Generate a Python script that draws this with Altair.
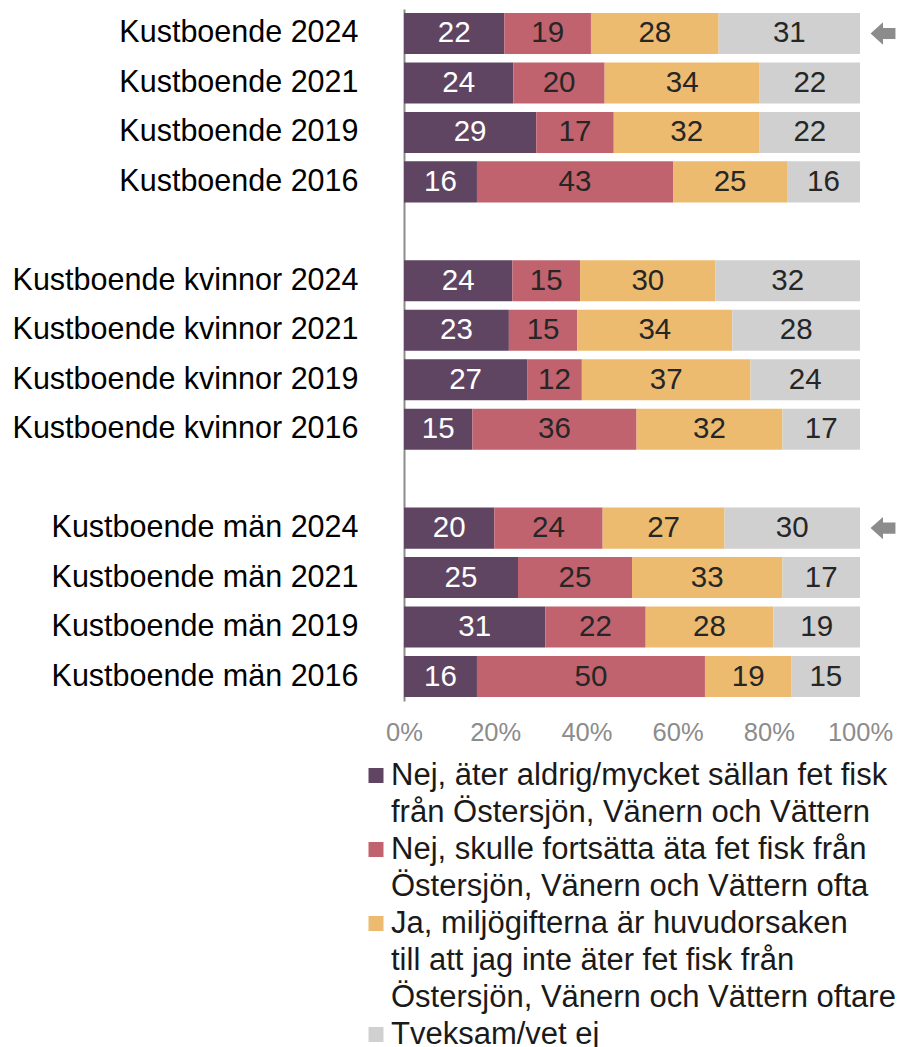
import altair as alt
import pandas as pd

FONT = "Liberation Sans"

categories = [
    "Kustboende 2024", "Kustboende 2021", "Kustboende 2019", "Kustboende 2016",
    " ",
    "Kustboende kvinnor 2024", "Kustboende kvinnor 2021", "Kustboende kvinnor 2019", "Kustboende kvinnor 2016",
    "  ",
    "Kustboende män 2024", "Kustboende män 2021", "Kustboende män 2019", "Kustboende män 2016",
]
bar_categories = [c for c in categories if c.strip()]

series_names = [
    "Nej, äter aldrig/mycket sällan fet fisk från Östersjön, Vänern och Vättern",
    "Nej, skulle fortsätta äta fet fisk från Östersjön, Vänern och Vättern ofta",
    "Ja, miljögifterna är huvudorsaken till att jag inte äter fet fisk från Östersjön, Vänern och Vättern oftare",
    "Tveksam/vet ej",
]
series_colors = ["#5f4562", "#c0636e", "#ecbb6f", "#d0d0d0"]

nej_aldrig = [22, 24, 29, 16, 24, 23, 27, 15, 20, 25, 31, 16]
nej_fortsatta = [19, 20, 17, 43, 15, 15, 12, 36, 24, 25, 22, 50]
ja_miljogifter = [28, 34, 32, 25, 30, 34, 37, 32, 27, 33, 28, 19]
tveksam = [31, 22, 22, 16, 32, 28, 24, 17, 30, 17, 19, 15]

arrow_categories = ["Kustboende 2024", "Kustboende män 2024"]

legend_lines = [
    ["Nej, äter aldrig/mycket sällan fet fisk", "från Östersjön, Vänern och Vättern"],
    ["Nej, skulle fortsätta äta fet fisk från", "Östersjön, Vänern och Vättern ofta"],
    ["Ja, miljögifterna är huvudorsaken", "till att jag inte äter fet fisk från",
     "Östersjön, Vänern och Vättern oftare"],
    ["Tveksam/vet ej"],
]

x_ticks = [0, 0.2, 0.4, 0.6, 0.8, 1.0]

# ---- build tables
rows = []
for si, (name, vals) in enumerate(zip(series_names, [nej_aldrig, nej_fortsatta, ja_miljogifter, tveksam])):
    for cat, v in zip(bar_categories, vals):
        rows.append({"cat": cat, "series": name, "idx": si, "value": v})
df = pd.DataFrame(rows)

arrow_df = pd.DataFrame({"cat": arrow_categories})

leg_rows = []
sq_rows = []
line_no = 0
for si, lines in enumerate(legend_lines):
    sq_rows.append({"line": line_no, "series": series_names[si]})
    for t in lines:
        leg_rows.append({"line": line_no, "text": t})
        line_no += 1
leg_df = pd.DataFrame(leg_rows)
sq_df = pd.DataFrame(sq_rows)

color_scale = alt.Scale(domain=series_names, range=series_colors)

y_enc = alt.Y(
    "cat:N",
    scale=alt.Scale(domain=categories, paddingInner=0.17, paddingOuter=0.08),
    sort=categories,
    axis=alt.Axis(
        title=None, ticks=False, labelPadding=46, labelFontSize=30.5, labelFont=FONT,
        labelColor="#000000", labelLimit=600, domainColor="#8c8c8c", domainWidth=2,
    ),
)

base = alt.Chart(df).transform_stack(
    stack="value", as_=["x0", "x1"], groupby=["cat"], offset="normalize",
    sort=[alt.SortField("idx", order="ascending")],
).transform_calculate(mid="(datum.x0 + datum.x1) / 2")

bars = base.mark_bar().encode(
    y=y_enc,
    x=alt.X(
        "x0:Q", scale=alt.Scale(domain=[0, 1]),
        axis=alt.Axis(
            title=None, format=".0%", values=x_ticks, grid=False, domain=False, ticks=False,
            labelFontSize=25.5, labelFont=FONT, labelColor="#8c8c8c", labelPadding=19,
            labelFlush=False,
        ),
    ),
    x2="x1:Q",
    color=alt.Color("series:N", scale=color_scale, legend=None),
)

labels = base.mark_text(fontSize=29.5, font=FONT, baseline="middle", align="center").encode(
    y=alt.Y("cat:N", sort=categories),
    x=alt.X("mid:Q"),
    text=alt.Text("value:Q"),
    color=alt.condition(alt.datum.idx == 0, alt.value("#ffffff"), alt.value("#262626")),
)

arrows = alt.Chart(arrow_df).mark_point(
    shape="M -1 0 L 0 -0.9 L 0 -0.45 L 1 -0.45 L 1 0.45 L 0 0.45 L 0 0.9 Z",
    filled=True, size=620, color="#8c8c8c", opacity=1, strokeWidth=0,
).encode(
    y=alt.Y("cat:N", sort=categories),
    x=alt.value(479),
)

main = alt.layer(bars, labels, arrows).properties(width=456, height=692)

leg_y = alt.Y("line:Q", scale=alt.Scale(domain=[-0.5, 7.5], reverse=True), axis=None)

leg_text = alt.Chart(leg_df).mark_text(
    align="left", baseline="middle", fontSize=31, font=FONT, color="#1a1a1a"
).encode(y=leg_y, x=alt.value(-13), text="text:N")

leg_sq = alt.Chart(sq_df).mark_square(size=225, opacity=1).encode(
    y=leg_y, x=alt.value(-28),
    color=alt.Color("series:N", scale=color_scale, legend=None),
)

legend = alt.layer(leg_sq, leg_text).properties(width=456, height=296)

chart = alt.vconcat(main, legend, spacing=11).properties(
    padding={"left": 4, "top": 1, "right": 5, "bottom": 0}
).configure_view(stroke=None)

chart.save("out.html", embed_options={"renderer": "svg", "actions": False})
